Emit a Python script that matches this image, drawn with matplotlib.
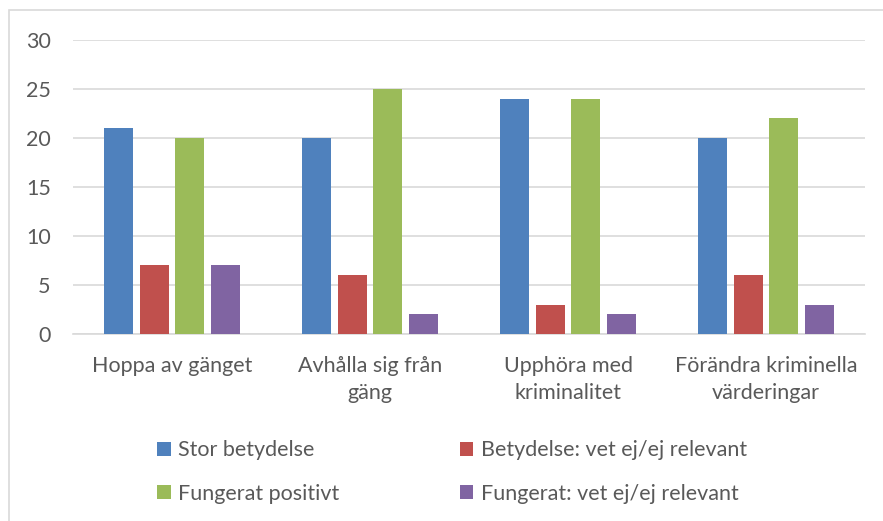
import numpy as np
import matplotlib
matplotlib.use("Agg")
import matplotlib.pyplot as plt
from matplotlib.patches import Rectangle

plt.rcParams['font.family'] = ['Lato', 'DejaVu Sans']

categories = ["Hoppa av gänget", "Avhålla sig från\ngäng",
              "Upphöra med\nkriminalitet", "Förändra kriminella\nvärderingar"]
series = ["Stor betydelse", "Betydelse: vet ej/ej relevant",
          "Fungerat positivt", "Fungerat: vet ej/ej relevant"]
stor = [21, 20, 24, 20]
betydelse_vet_ej = [7, 6, 3, 6]
fungerat_pos = [20, 25, 24, 22]
fungerat_vet_ej = [7, 2, 2, 3]
colors = ["#4F81BD", "#C0504D", "#9BBB59", "#8064A2"]

values = [stor, betydelse_vet_ej, fungerat_pos, fungerat_vet_ej]
txt = "#595959"
fs = 15.5

fig = plt.figure(figsize=(8.83, 5.21), dpi=100)
fig.patches.append(Rectangle((9 / 883, -0.1), 1.2, (521 - 10) / 521 + 0.1,
                             transform=fig.transFigure, fill=False,
                             edgecolor="#D9D9D9", linewidth=1.2))
ax = fig.add_axes([73 / 883, (521 - 334) / 521, (865 - 73) / 883, (334 - 40) / 521])

x = np.arange(len(categories))
step = 0.18
width = 0.145
handles = []
for i, (vals, c) in enumerate(zip(values, colors)):
    b = ax.bar(x + (i - 1.5) * step, vals, width, color=c, zorder=3, label=series[i])
    handles.append(b)

ax.set_xlim(-0.5, 3.5)
ax.set_ylim(0, 30)
ax.set_yticks(range(0, 31, 5))
ax.yaxis.grid(True, color="#D9D9D9", linewidth=1.2, zorder=0)
for s in ["top", "right", "left"]:
    ax.spines[s].set_visible(False)
ax.spines["bottom"].set_color("#D9D9D9")
ax.spines["bottom"].set_linewidth(1.2)
ax.tick_params(axis="both", length=0, labelsize=fs, colors=txt)
ax.tick_params(axis="y", pad=16)
ax.tick_params(axis="x", pad=16)
ax.set_xticks(x)
ax.set_xticklabels(categories, linespacing=1.45)

order = [0, 2, 1, 3]
fig.legend([handles[k] for k in order], [series[k] for k in order],
           ncol=2, loc="upper left", bbox_to_anchor=(138 / 883, 1 - 421 / 521),
           frameon=False, fontsize=fs, labelcolor=txt, handlelength=0.62,
           handleheight=0.62, handletextpad=0.35, labelspacing=1.08,
           columnspacing=5.6)

fig.savefig("out.png", dpi=100, facecolor="white")
